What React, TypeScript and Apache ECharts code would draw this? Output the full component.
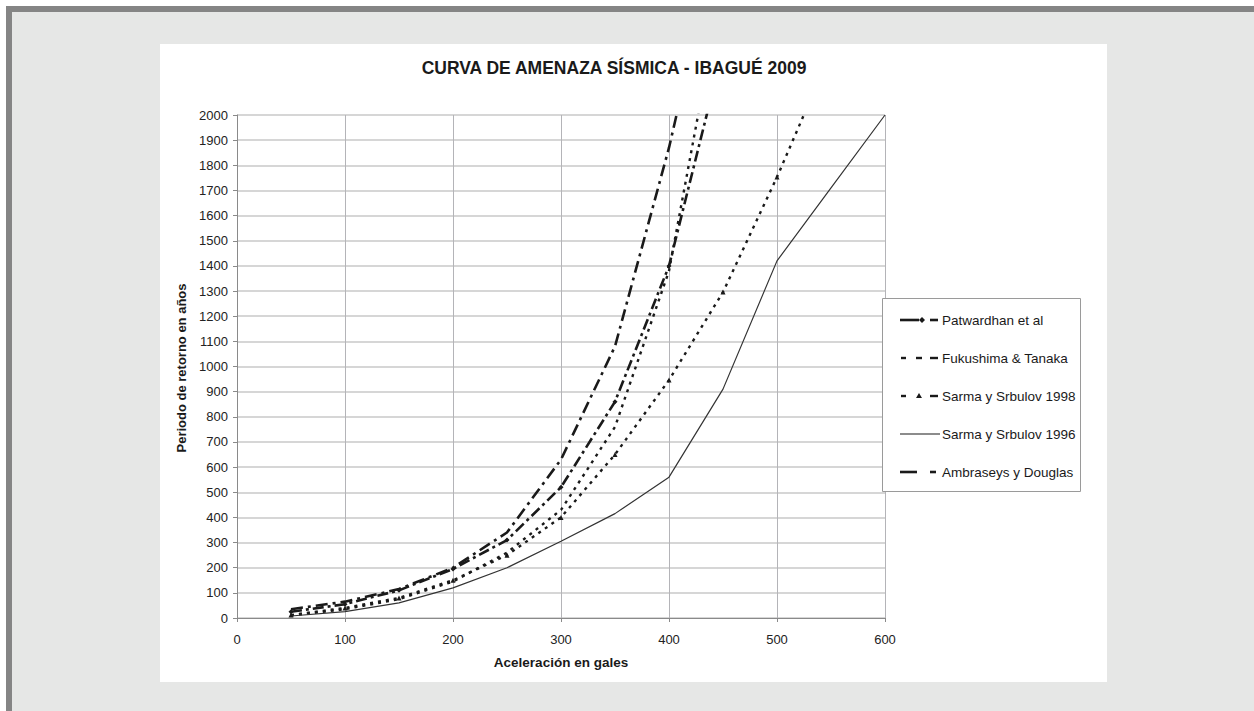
import { useEffect, useRef } from "react";
import * as echarts from "echarts";

const title = "CURVA DE AMENAZA SÍSMICA - IBAGUÉ 2009";
const xAxisName = "Aceleración en gales";
const yAxisName = "Periodo de retorno en años";

const accel = [50, 100, 150, 200, 250, 300, 350, 400, 450, 500, 550, 600];

const seriesNames = [
  "Patwardhan et al",
  "Fukushima & Tanaka",
  "Sarma y Srbulov 1998",
  "Sarma y Srbulov 1996",
  "Ambraseys y Douglas",
];

const patwardhan = [25, 55, 110, 195, 310, 520, 860, 1400, 2260];
const fukushima = [10, 35, 75, 145, 260, 430, 760, 1380, 2530];
const sarma1998 = [12, 40, 80, 150, 250, 400, 650, 946, 1296, 1753, 2250];
const sarma1996 = [8, 25, 60, 120, 200, 305, 415, 560, 910, 1420, 1710, 2000];
const ambraseys = [35, 65, 115, 200, 340, 630, 1080, 1870, 2800];

const pairs = (vals: number[]) => vals.map((v, i) => [accel[i], v]);

export default function App() {
  const ref = useRef<HTMLDivElement>(null);
  useEffect(() => {
    const chart = echarts.init(ref.current!, null, { renderer: "svg" });
    const ink = "#1a1a1a";
    const font = "Liberation Sans, Arial, sans-serif";

    // legend (drawn manually so each sample matches the reference glyphs)
    const lx = 900;
    const ly0 = 320;
    const lstep = 38;
    const seg = (x1: number, x2: number, y: number, w: number) => ({
      type: "line",
      shape: { x1, y1: y, x2, y2: y },
      style: { stroke: ink, lineWidth: w },
    });
    const legendSamples: any[][] = [
      [
        seg(lx, lx + 19, ly0, 2.6),
        {
          type: "polygon",
          shape: { points: [[lx + 22, ly0 - 3], [lx + 25, ly0], [lx + 22, ly0 + 3], [lx + 19, ly0]] },
          style: { fill: ink },
        },
        seg(lx + 30, lx + 38, ly0, 2.6),
      ],
      [
        seg(lx + 1, lx + 6, ly0 + lstep, 2.4),
        seg(lx + 16, lx + 22, ly0 + lstep, 2.4),
        seg(lx + 30, lx + 38, ly0 + lstep, 2.4),
      ],
      [
        seg(lx + 1, lx + 6, ly0 + 2 * lstep, 2.4),
        {
          type: "polygon",
          shape: {
            points: [
              [lx + 19, ly0 + 2 * lstep - 3],
              [lx + 22, ly0 + 2 * lstep + 2],
              [lx + 16, ly0 + 2 * lstep + 2],
            ],
          },
          style: { fill: ink },
        },
        seg(lx + 30, lx + 38, ly0 + 2 * lstep, 2.4),
      ],
      [seg(lx, lx + 40, ly0 + 3 * lstep, 1.2)],
      [seg(lx, lx + 17, ly0 + 4 * lstep, 2.6), seg(lx + 30, lx + 36, ly0 + 4 * lstep, 2.6)],
    ];
    const legendGraphics: any[] = [
      {
        type: "rect",
        shape: { x: 882.5, y: 298.5, width: 198, height: 193 },
        style: { fill: "#ffffff", stroke: "#9a9a9a", lineWidth: 1 },
        z: 10,
      },
    ];
    seriesNames.forEach((name, i) => {
      legendSamples[i].forEach((el) => legendGraphics.push({ ...el, z: 11 }));
      legendGraphics.push({
        type: "text",
        x: 942,
        y: ly0 + i * lstep,
        z: 11,
        style: {
          text: name,
          font: `13.5px ${font}`,
          fill: ink,
          textVerticalAlign: "middle",
        },
      });
    });

    chart.setOption({
      animation: false,
      backgroundColor: "transparent",
      textStyle: { fontFamily: font },
      graphic: [
        {
          type: "text",
          x: 614,
          y: 59,
          style: {
            text: title,
            font: `bold 17.5px ${font}`,
            fill: ink,
            textAlign: "center",
          },
        },
        {
          type: "text",
          x: 561,
          y: 655,
          style: {
            text: xAxisName,
            font: `bold 13.5px ${font}`,
            fill: ink,
            textAlign: "center",
          },
        },
        {
          type: "text",
          x: 181,
          y: 368,
          rotation: Math.PI / 2,
          style: {
            text: yAxisName,
            font: `bold 13px ${font}`,
            fill: ink,
            textAlign: "center",
            textVerticalAlign: "middle",
          },
        },
        ...legendGraphics,
      ],
      grid: { left: 237, top: 115, width: 648, height: 503 },
      xAxis: {
        type: "value",
        min: 0,
        max: 600,
        interval: 100,
        axisLine: { lineStyle: { color: "#8a8a8a", width: 1 } },
        axisTick: { show: true, inside: false, length: 4, lineStyle: { color: "#8a8a8a" } },
        axisLabel: {
          fontSize: 13,
          color: "#222",
          margin: 15,
          fontFamily: font,
          formatter: (v: number) => String(v),
        },
        splitLine: { show: true, lineStyle: { color: "#b4b4b8", width: 1 } },
      },
      yAxis: {
        type: "value",
        min: 0,
        max: 2000,
        interval: 100,
        axisLine: { show: true, lineStyle: { color: "#8a8a8a", width: 1 } },
        axisTick: { show: true, inside: false, length: 4, lineStyle: { color: "#8a8a8a" } },
        axisLabel: {
          fontSize: 13,
          color: "#222",
          margin: 9,
          fontFamily: font,
          formatter: (v: number) => String(v),
        },
        splitLine: { show: true, lineStyle: { color: "#c8c8c8", width: 1.5 } },
      },
      series: [
        {
          name: seriesNames[0],
          type: "line",
          data: pairs(patwardhan),
          symbol: "diamond",
          symbolSize: 5,
          itemStyle: { color: ink },
          lineStyle: { color: ink, width: 2.6, type: [11, 4, 3, 4] },
          z: 5,
        },
        {
          name: seriesNames[1],
          type: "line",
          data: pairs(fukushima),
          symbol: "none",
          itemStyle: { color: ink },
          lineStyle: { color: ink, width: 2.4, type: [3, 5] },
        },
        {
          name: seriesNames[2],
          type: "line",
          data: pairs(sarma1998),
          symbol: "triangle",
          symbolSize: 5,
          itemStyle: { color: ink },
          lineStyle: { color: ink, width: 2.4, type: [3, 5] },
        },
        {
          name: seriesNames[3],
          type: "line",
          data: pairs(sarma1996),
          symbol: "none",
          itemStyle: { color: "#333" },
          lineStyle: { color: "#333", width: 1.2 },
        },
        {
          name: seriesNames[4],
          type: "line",
          data: pairs(ambraseys),
          symbol: "none",
          itemStyle: { color: ink },
          lineStyle: { color: ink, width: 2.6, type: [12, 5, 3, 5] },
        },
      ],
    });
    return () => chart.dispose();
  }, []);
  return (
    <div
      style={{
        position: "fixed",
        left: 0,
        top: 0,
        width: 1254,
        height: 711,
        background: "#ffffff",
        overflow: "hidden",
      }}
    >
      <div
        style={{
          position: "absolute",
          left: 6,
          top: 6,
          right: 0,
          bottom: 0,
          background: "#e6e7e6",
          borderTop: "6px solid #858585",
          borderLeft: "6px solid #858585",
        }}
      />
      <div
        style={{
          position: "absolute",
          left: 160,
          top: 44,
          width: 947,
          height: 638,
          background: "#ffffff",
        }}
      />
      <div
        ref={ref}
        style={{ position: "absolute", left: 0, top: 0, width: 1254, height: 711 }}
      />
    </div>
  );
}
